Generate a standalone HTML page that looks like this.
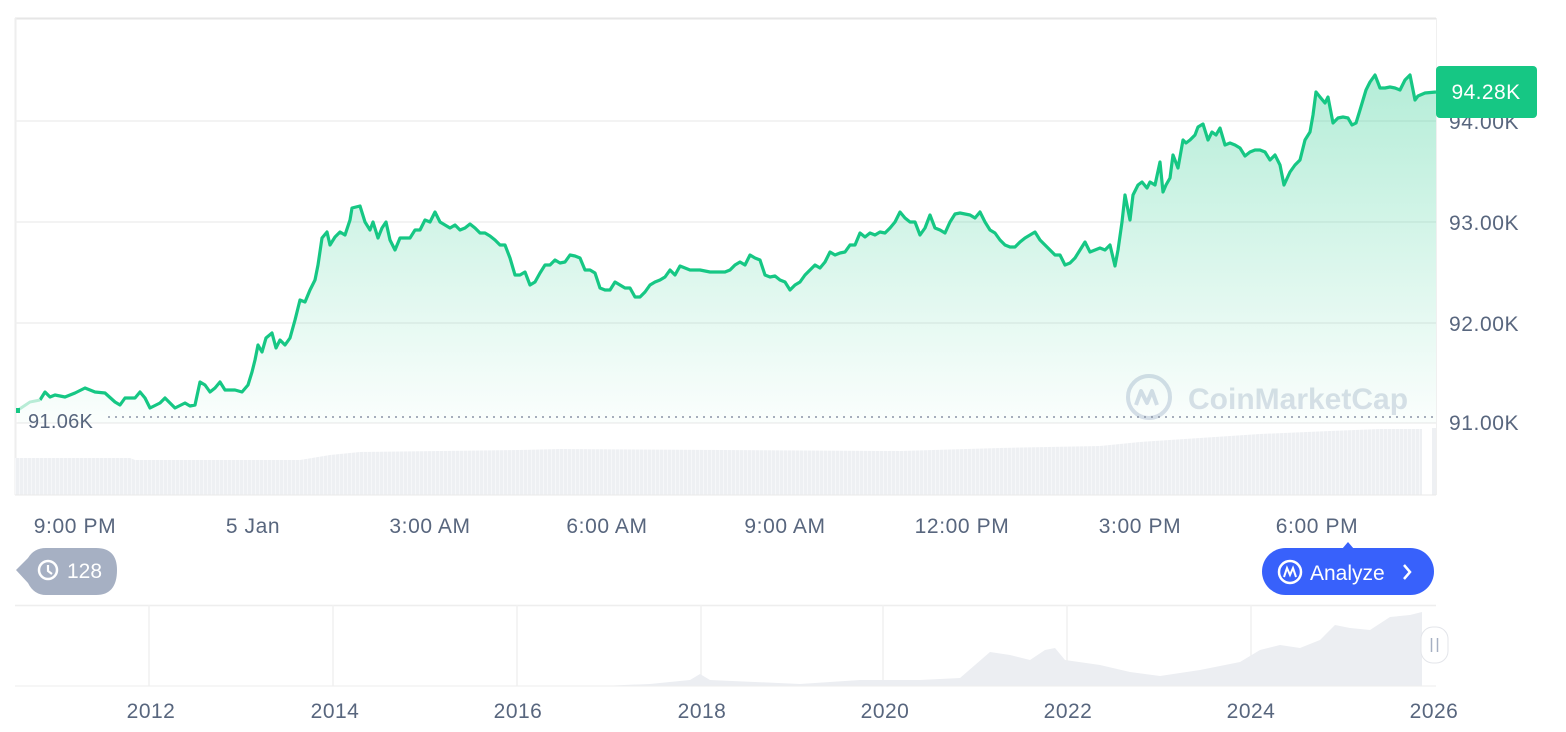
<!DOCTYPE html>
<html><head><meta charset="utf-8"><style>
html,body{margin:0;padding:0;background:#fff;}
svg{display:block;font-family:"Liberation Sans",sans-serif;}
</style></head><body>
<svg width="1566" height="732" viewBox="0 0 1566 732" xmlns="http://www.w3.org/2000/svg">
<defs>
<linearGradient id="fill" x1="0" y1="75" x2="0" y2="420" gradientUnits="userSpaceOnUse">
<stop offset="0" stop-color="#16c784" stop-opacity="0.32"/>
<stop offset="1" stop-color="#16c784" stop-opacity="0.02"/>
</linearGradient>
<pattern id="vb" width="4" height="10" patternUnits="userSpaceOnUse">
<rect width="3" height="10" fill="#eef0f3"/><rect x="3" width="1" height="10" fill="#f6f7f9"/>
</pattern>
</defs>
<line x1="15" y1="18.5" x2="1436" y2="18.5" stroke="#e6e6e6" stroke-width="2"/>
<line x1="15.5" y1="18" x2="15.5" y2="495" stroke="#eeeeee" stroke-width="2"/>
<line x1="1436.5" y1="18" x2="1436.5" y2="495" stroke="#f0f0f0" stroke-width="1"/>
<g stroke="#efefef" stroke-width="1.5">
<line x1="15" y1="121" x2="1436" y2="121"/>
<line x1="15" y1="222" x2="1436" y2="222"/>
<line x1="15" y1="323" x2="1436" y2="323"/>
<line x1="15" y1="423" x2="1436" y2="423"/>
</g>
<polygon fill="url(#vb)" points="15,458 130,458 135,460 300,460 330,455 360,452 520,450 560,449 900,451 1000,448 1100,446 1140,442 1200,438 1260,434 1330,431 1380,429 1422,429 1422,495 15,495"/>
<rect x="1432" y="428" width="4" height="67" fill="#eef0f3"/>
<line x1="15" y1="495" x2="1436" y2="495" stroke="#eaeaea"/>
<g opacity="0.8">
<circle cx="1149" cy="397" r="21" fill="none" stroke="#cfd6e4" stroke-width="4"/>
<path d="M1136 405 l5 -14 l6 12 l5 -12 l5 14" fill="none" stroke="#cfd6e4" stroke-width="4" stroke-linejoin="round"/>
<text x="1188" y="409" font-size="30" font-weight="bold" fill="#d3d9e4">CoinMarketCap</text>
</g>
<path fill="url(#fill)" stroke="none" d="M18,410 L40,400 45,392 50,397 55,395 65,397 75,393 85,388 95,392 105,393 115,402 120,405 125,398 135,398 140,392 145,398 150,408 160,403 165,398 175,408 185,403 190,406 195,405 200,382 205,385 210,392 215,388 220,382 225,390 235,390 242,392 248,385 252,372 255,360 258,345 262,352 266,338 272,333 276,348 280,340 285,345 290,338 295,320 300,300 305,302 310,290 315,280 318,265 322,238 327,232 330,245 335,237 340,232 345,235 350,220 352,208 360,206 365,222 370,230 373,222 378,238 382,228 386,222 390,240 395,250 400,238 405,238 410,238 415,230 420,230 425,220 430,222 435,212 440,222 445,225 450,228 455,225 460,230 465,228 470,224 475,228 480,233 485,233 490,236 495,240 500,245 505,245 510,258 515,275 520,275 525,272 530,285 535,282 540,273 545,265 550,265 555,260 560,263 565,262 570,255 575,256 580,258 585,270 590,270 595,273 600,288 605,290 610,290 615,282 620,285 625,288 630,288 635,297 640,297 645,292 650,285 655,282 660,280 665,277 670,270 675,275 680,266 685,268 690,270 700,270 710,272 720,272 725,272 730,270 735,265 740,262 745,265 750,255 755,258 760,260 765,275 770,277 775,276 780,280 785,282 790,290 795,285 800,282 805,275 810,270 815,265 820,268 825,262 830,252 835,255 840,253 845,252 850,245 855,245 860,233 865,237 870,233 875,235 880,232 885,233 890,228 895,222 900,212 905,218 910,222 915,222 920,235 925,228 930,215 935,228 940,230 945,233 950,222 955,214 960,213 965,214 970,215 975,218 980,212 985,222 990,230 995,233 1000,240 1005,245 1010,247 1015,247 1020,242 1025,238 1030,235 1035,232 1040,240 1045,245 1050,250 1055,255 1060,255 1065,265 1070,263 1075,258 1080,250 1085,242 1090,252 1095,250 1100,248 1105,250 1110,245 1115,266 1118,250 1122,222 1125,195 1130,220 1133,195 1138,185 1142,182 1147,188 1150,182 1155,185 1160,162 1163,192 1166,185 1170,178 1173,155 1178,168 1183,140 1186,143 1190,140 1195,135 1198,127 1203,124 1208,140 1212,132 1216,135 1220,128 1225,145 1230,143 1235,145 1240,148 1245,156 1250,152 1255,150 1260,150 1265,152 1270,160 1275,155 1280,165 1284,185 1290,172 1295,165 1300,160 1305,140 1310,132 1313,115 1316,92 1320,97 1325,103 1328,97 1333,123 1338,118 1343,117 1348,118 1352,125 1356,123 1360,110 1366,90 1370,82 1375,75 1380,88 1385,88 1390,87 1395,88 1400,90 1405,80 1410,75 1415,100 1418,96 1425,93 1436,92 L1436,423 L18,423 Z"/>
<polyline fill="none" stroke="#16c784" stroke-width="3.2" stroke-linejoin="round" points="40,400 45,392 50,397 55,395 65,397 75,393 85,388 95,392 105,393 115,402 120,405 125,398 135,398 140,392 145,398 150,408 160,403 165,398 175,408 185,403 190,406 195,405 200,382 205,385 210,392 215,388 220,382 225,390 235,390 242,392 248,385 252,372 255,360 258,345 262,352 266,338 272,333 276,348 280,340 285,345 290,338 295,320 300,300 305,302 310,290 315,280 318,265 322,238 327,232 330,245 335,237 340,232 345,235 350,220 352,208 360,206 365,222 370,230 373,222 378,238 382,228 386,222 390,240 395,250 400,238 405,238 410,238 415,230 420,230 425,220 430,222 435,212 440,222 445,225 450,228 455,225 460,230 465,228 470,224 475,228 480,233 485,233 490,236 495,240 500,245 505,245 510,258 515,275 520,275 525,272 530,285 535,282 540,273 545,265 550,265 555,260 560,263 565,262 570,255 575,256 580,258 585,270 590,270 595,273 600,288 605,290 610,290 615,282 620,285 625,288 630,288 635,297 640,297 645,292 650,285 655,282 660,280 665,277 670,270 675,275 680,266 685,268 690,270 700,270 710,272 720,272 725,272 730,270 735,265 740,262 745,265 750,255 755,258 760,260 765,275 770,277 775,276 780,280 785,282 790,290 795,285 800,282 805,275 810,270 815,265 820,268 825,262 830,252 835,255 840,253 845,252 850,245 855,245 860,233 865,237 870,233 875,235 880,232 885,233 890,228 895,222 900,212 905,218 910,222 915,222 920,235 925,228 930,215 935,228 940,230 945,233 950,222 955,214 960,213 965,214 970,215 975,218 980,212 985,222 990,230 995,233 1000,240 1005,245 1010,247 1015,247 1020,242 1025,238 1030,235 1035,232 1040,240 1045,245 1050,250 1055,255 1060,255 1065,265 1070,263 1075,258 1080,250 1085,242 1090,252 1095,250 1100,248 1105,250 1110,245 1115,266 1118,250 1122,222 1125,195 1130,220 1133,195 1138,185 1142,182 1147,188 1150,182 1155,185 1160,162 1163,192 1166,185 1170,178 1173,155 1178,168 1183,140 1186,143 1190,140 1195,135 1198,127 1203,124 1208,140 1212,132 1216,135 1220,128 1225,145 1230,143 1235,145 1240,148 1245,156 1250,152 1255,150 1260,150 1265,152 1270,160 1275,155 1280,165 1284,185 1290,172 1295,165 1300,160 1305,140 1310,132 1313,115 1316,92 1320,97 1325,103 1328,97 1333,123 1338,118 1343,117 1348,118 1352,125 1356,123 1360,110 1366,90 1370,82 1375,75 1380,88 1385,88 1390,87 1395,88 1400,90 1405,80 1410,75 1415,100 1418,96 1425,93 1436,92"/>
<polyline fill="none" stroke="#b8ecd6" stroke-width="3" points="18,410 30,402 40,400"/>
<rect x="16" y="408" width="4" height="5" fill="#16c784"/>
<line x1="108" y1="417" x2="1436" y2="417" stroke="#8a94a6" stroke-width="1.5" stroke-dasharray="2,5"/>
<text x="28" y="428" font-size="20" letter-spacing="0.3" fill="#58667e">91.06K</text>
<g font-size="21" letter-spacing="0.6" fill="#58667e">
<text x="1449" y="129">94.00K</text>
<text x="1449" y="230">93.00K</text>
<text x="1449" y="331">92.00K</text>
<text x="1449" y="430">91.00K</text>
</g>
<rect x="1436" y="66" width="101" height="52" rx="4" fill="#16c784"/>
<text x="1486" y="99" font-size="21" letter-spacing="0.4" fill="#fff" text-anchor="middle">94.28K</text>
<g font-size="21" letter-spacing="0.6" fill="#58667e" text-anchor="middle">
<text x="75" y="533">9:00 PM</text>
<text x="253" y="533">5 Jan</text>
<text x="430" y="533">3:00 AM</text>
<text x="607" y="533">6:00 AM</text>
<text x="785" y="533">9:00 AM</text>
<text x="962" y="533">12:00 PM</text>
<text x="1140" y="533">3:00 PM</text>
<text x="1317" y="533">6:00 PM</text>
</g>
<path d="M16,570 L28,558 Q34,548 46,548 L96,548 Q117,548 117,570 Q117,595 96,595 L46,595 Q34,595 28,583 Z" fill="#a6b0c3"/>
<circle cx="48" cy="570" r="9" fill="none" stroke="#fff" stroke-width="2.5"/>
<path d="M48,565 L48,571 L52,574" fill="none" stroke="#fff" stroke-width="2.2"/>
<text x="67" y="578" font-size="21" fill="#fff">128</text>
<path d="M1342,549 L1348,542 L1354,549 Z" fill="#3861fb"/>
<rect x="1262" y="548" width="172" height="47" rx="23.5" fill="#3861fb"/>
<circle cx="1290" cy="572" r="11" fill="none" stroke="#fff" stroke-width="2.5"/>
<path d="M1284,577 l3,-9 l3,7 l3,-7 l3,9" fill="none" stroke="#fff" stroke-width="2"/>
<text x="1310" y="580" font-size="21" fill="#fff">Analyze</text>
<path d="M1404,565 l6,7 l-6,7" fill="none" stroke="#fff" stroke-width="2.5"/>
<line x1="15" y1="605.5" x2="1436" y2="605.5" stroke="#eeeeee" stroke-width="1.5"/>
<g stroke="#f0f0f0" stroke-width="1.5">
<line x1="149" y1="605" x2="149" y2="686"/>
<line x1="333" y1="605" x2="333" y2="686"/>
<line x1="517" y1="605" x2="517" y2="686"/>
<line x1="701" y1="605" x2="701" y2="686"/>
<line x1="883" y1="605" x2="883" y2="686"/>
<line x1="1067" y1="605" x2="1067" y2="686"/>
<line x1="1251" y1="605" x2="1251" y2="686"/>
</g>
<polygon fill="#eceef2" points="15,686 600,686 650,684 690,680 700,674 710,680 800,684 860,680 920,680 960,678 975,665 990,652 1010,655 1030,660 1045,650 1055,648 1065,660 1100,665 1130,672 1160,676 1200,670 1240,662 1260,650 1280,645 1300,648 1320,640 1335,625 1350,628 1370,630 1390,617 1410,615 1422,612 1422,686"/>
<line x1="15" y1="686" x2="1436" y2="686" stroke="#eeeeee"/>
<rect x="1421" y="627" width="27" height="36" rx="12" fill="#fff" stroke="#e3e5ea" stroke-width="1"/>
<line x1="1431.5" y1="638" x2="1431.5" y2="652" stroke="#a6b0c3" stroke-width="1.5"/>
<line x1="1437.5" y1="638" x2="1437.5" y2="652" stroke="#a6b0c3" stroke-width="1.5"/>
<g font-size="21" letter-spacing="0.5" fill="#58667e" text-anchor="middle">
<text x="151" y="718">2012</text>
<text x="335" y="718">2014</text>
<text x="518" y="718">2016</text>
<text x="702" y="718">2018</text>
<text x="885" y="718">2020</text>
<text x="1068" y="718">2022</text>
<text x="1251" y="718">2024</text>
<text x="1434" y="718">2026</text>
</g>
</svg>
</body></html>
